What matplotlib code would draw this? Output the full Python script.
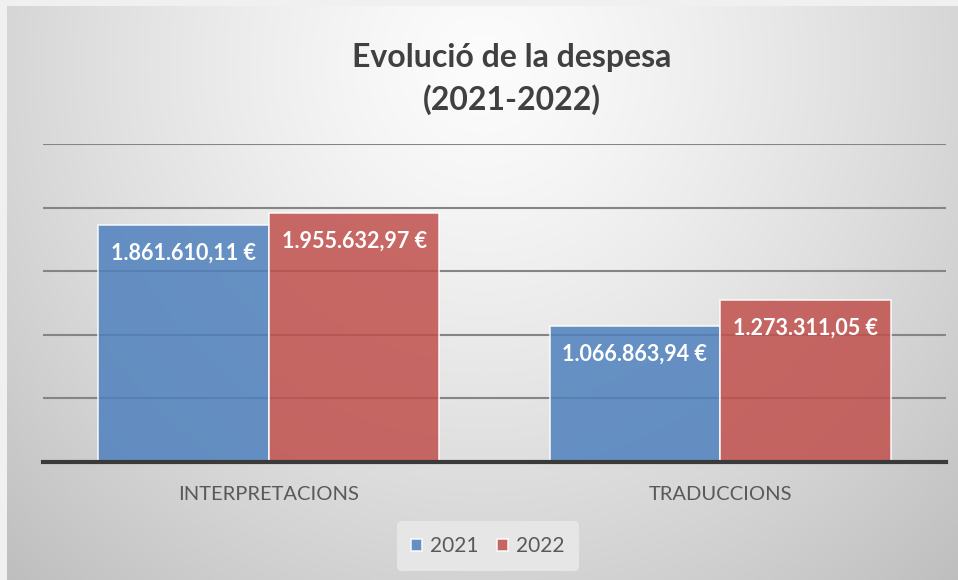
import numpy as np
import matplotlib
matplotlib.use("Agg")
import matplotlib.pyplot as plt

categories = ["INTERPRETACIONS", "TRADUCCIONS"]
series_names = ["2021", "2022"]
values_2021 = [1861610.11, 1066863.94]
values_2022 = [1955632.97, 1273311.05]
labels_2021 = ["1.861.610,11 €", "1.066.863,94 €"]
labels_2022 = ["1.955.632,97 €", "1.273.311,05 €"]
yticks = [0, 500000, 1000000, 1500000, 2000000, 2500000]

plt.rcParams['font.family'] = ['Lato', 'DejaVu Sans']

W, H = 958, 580
fig = plt.figure(figsize=(W / 100, H / 100), dpi=100)
fig.patch.set_facecolor('#f0f0f0')

# background gradient
bg = fig.add_axes([7 / W, 0, 1 - 7 / W, 1 - 6 / H], zorder=-10)
ny, nx = 300, 500
yy, xx = np.mgrid[0:ny, 0:nx]
cx, cy = nx * 0.5, ny * 0.1
d = np.sqrt(((xx - cx) / (nx * 0.62)) ** 2 + ((yy - cy) / (ny * 1.05)) ** 2)
val = 252 - 50 * np.clip(d, 0, 1.2) ** 1.3
img = np.dstack([val, val, val]) / 255.0
bg.imshow(np.clip(img, 0, 1), aspect='auto', extent=[0, 1, 0, 1], origin='upper', interpolation='bilinear')
bg.set_axis_off()

ax = fig.add_axes([43 / W, 1 - 462 / H, (946 - 43) / W, (462 - 144) / H])
ax.set_facecolor('none')
x = np.arange(len(categories))
bw = 0.378
c1, c2 = '#4f81bd', '#c0504d'
b1 = ax.bar(x - bw / 2, values_2021, bw, color=c1, alpha=0.85, edgecolor=(1, 1, 1, 0.6), linewidth=1.2, zorder=3, label=series_names[0])
b2 = ax.bar(x + bw / 2, values_2022, bw, color=c2, alpha=0.85, edgecolor=(1, 1, 1, 0.6), linewidth=1.2, zorder=3, label=series_names[1])

for rects, labs in ((b1, labels_2021), (b2, labels_2022)):
    for r, lab in zip(rects, labs):
        ax.annotate(lab, (r.get_x() + r.get_width() / 2, r.get_height()), xytext=(0, -28),
                    textcoords='offset pixels', ha='center', va='center',
                    color='white', fontsize=15.5, fontweight='bold', zorder=5)

ax.set_xlim(-0.5, 1.5)
ax.set_ylim(0, 2500000)
ax.set_yticks(yticks)
ax.yaxis.grid(True, color='#858585', linewidth=1.5, zorder=1)
ax.set_axisbelow(True)
ax.tick_params(axis='y', left=False, labelleft=False)
ax.tick_params(axis='x', bottom=False, pad=14, labelsize=14.5, labelcolor='#595959')
ax.set_xticks(x)
ax.set_xticklabels(categories)
for s in ['top', 'right', 'left']:
    ax.spines[s].set_visible(False)
ax.spines['bottom'].set_color('#3a3a3a')
ax.spines['bottom'].set_linewidth(3)
ax.spines['bottom'].set_zorder(4)

tx = 512 / W
fig.text(tx, 1 - 58 / H, "Evolució de la despesa", ha='center', va='center', fontsize=23, fontweight='bold', color='#404040')
fig.text(tx, 1 - 100 / H, "(2021-2022)", ha='center', va='center', fontsize=23, fontweight='bold', color='#404040')

leg = fig.legend(handles=[b1, b2], labels=series_names, loc='center', bbox_to_anchor=(488 / W, 1 - 546 / H),
                 ncol=2, frameon=True, fontsize=15, handlelength=0.5, handleheight=0.5, handletextpad=0.4,
                 columnspacing=0.9, borderpad=0.7, borderaxespad=0)
leg.get_frame().set_facecolor('#e6e6e6')
leg.get_frame().set_edgecolor('none')
leg.get_frame().set_alpha(1)
for t in leg.get_texts():
    t.set_color('#595959')

fig.savefig('out.png', dpi=100)
